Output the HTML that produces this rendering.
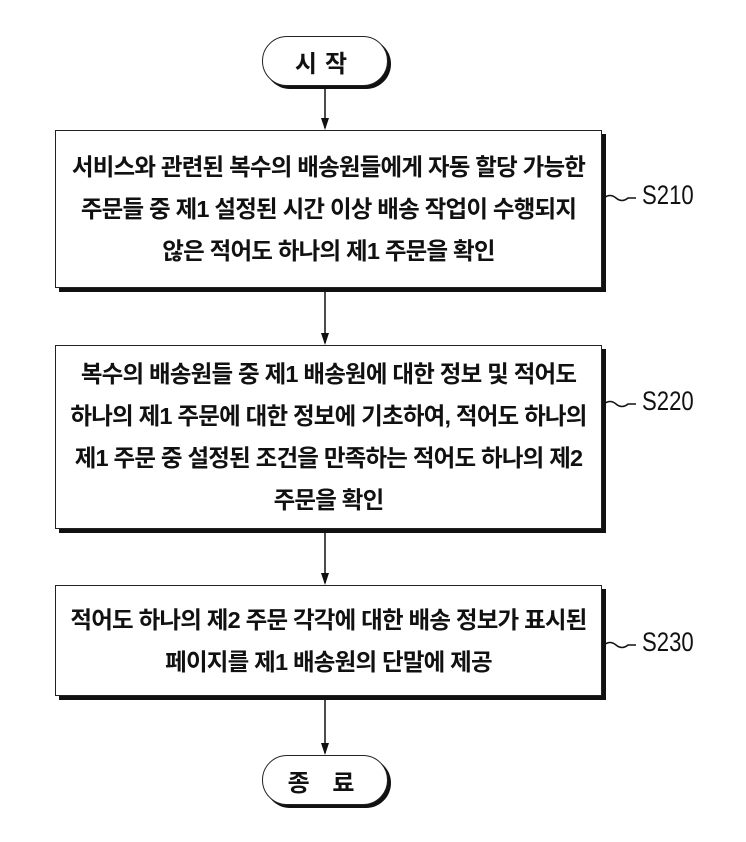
<!DOCTYPE html>
<html><head><meta charset="utf-8"><style>
body{margin:0;width:746px;height:842px;background:#fff;position:relative;font-family:"Liberation Sans","Noto Sans CJK KR","NanumGothic",sans-serif;color:#111;overflow:hidden}
.box{position:absolute;left:55px;width:545px;border:1.5px solid #222;box-shadow:4px 4px 0 #111;background:#fff;display:flex;align-items:center;justify-content:center;text-align:center;font-size:23.5px;line-height:42px;font-weight:bold;letter-spacing:-0.8px;white-space:nowrap}
.oval{position:absolute;left:262px;width:124px;height:48px;border:1.5px solid #222;border-radius:26px;box-shadow:3px 3px 0 #111;background:#fff;display:flex;align-items:center;justify-content:center;font-size:24px;letter-spacing:8px;font-weight:bold}
.lbl{position:absolute;font-size:27px;left:642px;transform:scaleX(0.82);transform-origin:left}
</style></head><body>
<svg width="746" height="842" style="position:absolute;left:0;top:0">
<g stroke="#111" stroke-width="1.5" fill="none">
<line x1="325" y1="86" x2="325" y2="128"/>
<line x1="325" y1="292" x2="325" y2="343"/>
<line x1="325" y1="532" x2="325" y2="583"/>
<line x1="325" y1="699" x2="325" y2="753"/>
<path d="M604 198 q6 -5 12 0 t12 0 l8 0"/>
<path d="M604 404 q6 -5 12 0 t12 0 l8 0"/>
<path d="M604 645 q6 -5 12 0 t12 0 l8 0"/>
</g>
<g fill="#111">
<polygon points="321,118 329,118 325,130"/>
<polygon points="321,333 329,333 325,345"/>
<polygon points="321,573 329,573 325,585"/>
<polygon points="321,743 329,743 325,755"/>
</g>
</svg>
<div class="oval" style="top:36px">시작</div>
<div class="box" style="top:130px;height:156px">서비스와 관련된 복수의 배송원들에게 자동 할당 가능한<br>주문들 중 제1 설정된 시간 이상 배송 작업이 수행되지<br>않은 적어도 하나의 제1 주문을 확인</div>
<div class="box" style="top:345px;height:182px">복수의 배송원들 중 제1 배송원에 대한 정보 및 적어도<br>하나의 제1 주문에 대한 정보에 기초하여, 적어도 하나의<br>제1 주문 중 설정된 조건을 만족하는 적어도 하나의 제2<br>주문을 확인</div>
<div class="box" style="top:585px;height:109px">적어도 하나의 제2 주문 각각에 대한 배송 정보가 표시된<br>페이지를 제1 배송원의 단말에 제공</div>
<div class="oval" style="top:755px">종 료</div>
<div class="lbl" style="top:180px">S210</div>
<div class="lbl" style="top:386px">S220</div>
<div class="lbl" style="top:627px">S230</div>
</body></html>
